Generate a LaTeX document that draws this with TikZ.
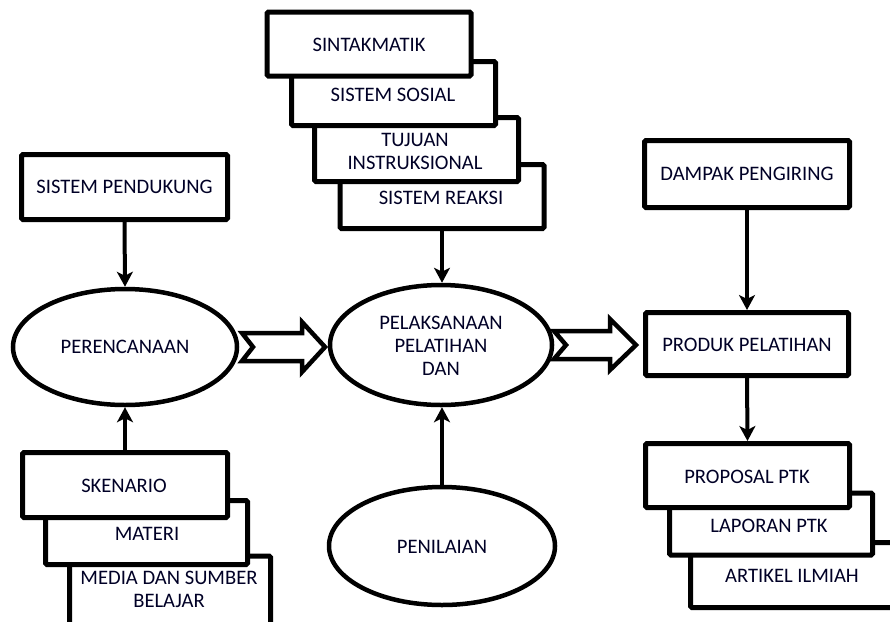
\documentclass[tikz,border=0pt]{standalone}
\usepackage{fontspec}
\setmainfont{Carlito}
\usetikzlibrary{shapes.geometric,arrows.meta}
\tikzset{
  x=1pt,y=-1pt,
  box/.style={draw=black,line width=5pt,fill=white,rounded corners=1.5pt,inner sep=0pt},
  oval/.style={draw=black,line width=4.5pt,fill=white,ellipse,inner sep=0pt},
  lbl/.style={inner sep=0pt,align=center,font=\fontsize{20.6}{23}\selectfont,text=black!85!blue},
  conn/.style={line width=4pt,-{Stealth[length=15pt,width=16pt,inset=4pt]}},
  blockarrow/.style={draw=black,line width=4.5pt,fill=white,line join=miter},
}
\begin{document}
\begin{tikzpicture}
\useasboundingbox (0,0) rectangle (890,621);
\clip (0,0) rectangle (890,621);
\fill[white] (0,0) rectangle (890,621);

% top stack (back to front)
\node[box,minimum width=204pt,minimum height=64pt] (rea) at (442,196.5) {};
\node[box,minimum width=204pt,minimum height=64pt] (tuj) at (416.5,149.5) {};
\node[box,minimum width=204pt,minimum height=64pt] (sos) at (393.5,93.5) {};
\node[box,minimum width=204pt,minimum height=64pt] (sint) at (369,44) {};
\node[lbl] (treat) at (441,198) {SISTEM REAKSI};
\node[lbl] (ttuj) at (415,151) {TUJUAN\\INSTRUKSIONAL};
\node[lbl] (tsos) at (393,95) {SISTEM SOSIAL};
\node[lbl] (tsint) at (369,45) {SINTAKMATIK};

% left column
\node[box,minimum width=206pt,minimum height=65pt] (pend) at (124.5,187) {};
\node[lbl] (tpend) at (124.5,187) {SISTEM PENDUKUNG};
\node[oval,minimum width=224pt,minimum height=116pt] (peren) at (125,347) {};
\node[lbl] (tperen) at (125,347) {PERENCANAAN};

% left bottom stack
\node[box,minimum width=201pt,minimum height=74pt] (media) at (170,593) {};
\node[box,minimum width=202pt,minimum height=64pt] (materi) at (146.5,532.5) {};
\node[box,minimum width=205pt,minimum height=65pt] (sken) at (125,485) {};
\node[lbl] (tmedia) at (169,589) {MEDIA DAN SUMBER\\BELAJAR};
\node[lbl] (tmateri) at (147,534) {MATERI};
\node[lbl] (tsken) at (124,486) {SKENARIO};

% middle
\node[oval,minimum width=222pt,minimum height=120pt] (pelak) at (441,345) {};
\node[lbl] (tpelak) at (441,346) {PELAKSANAAN\\PELATIHAN\\DAN};
\node[oval,minimum width=226pt,minimum height=118pt] (penil) at (442,546) {};
\node[lbl] (tpenil) at (442,547) {PENILAIAN};

% right column
\node[box,minimum width=205pt,minimum height=67pt] (damp) at (747,174) {};
\node[lbl] (tdamp) at (747,174) {DAMPAK PENGIRING};
\node[box,minimum width=203pt,minimum height=63pt] (prod) at (747,344) {};
\node[lbl] (tprod) at (747,345) {PRODUK PELATIHAN};

% right bottom stack
\node[box,minimum width=205pt,minimum height=65pt] (art) at (793,575) {};
\node[box,minimum width=203pt,minimum height=62pt] (lap) at (771,524) {};
\node[box,minimum width=204pt,minimum height=64pt] (prop) at (747.5,475.5) {};
\node[lbl] (tart) at (792,576) {ARTIKEL ILMIAH};
\node[lbl] (tlap) at (769,526) {LAPORAN PTK};
\node[lbl] (tprop) at (747,477) {PROPOSAL PTK};

% connectors
\draw[conn] (pend.south) -- (peren.north);
\draw[conn] (sken.north) -- (peren.south);
\draw[conn] (rea.south) -- (rea.south |- pelak.north);
\draw[conn] (penil.north) -- (penil.north |- pelak.south);
\draw[conn] (damp.south) -- (prod.north);
\draw[conn] (prod.south) -- (prop.north);

% block arrows
\draw[blockarrow] (242,333) -- (302,333) -- (302,322) -- (325,347) -- (302,372) -- (302,361) -- (242,361) -- (253,347) -- cycle;
\draw[blockarrow] (554,331) -- (610,331) -- (610,319) -- (636,345) -- (610,370) -- (610,359) -- (554,359) -- (566,345) -- cycle;
\end{tikzpicture}
\end{document}
